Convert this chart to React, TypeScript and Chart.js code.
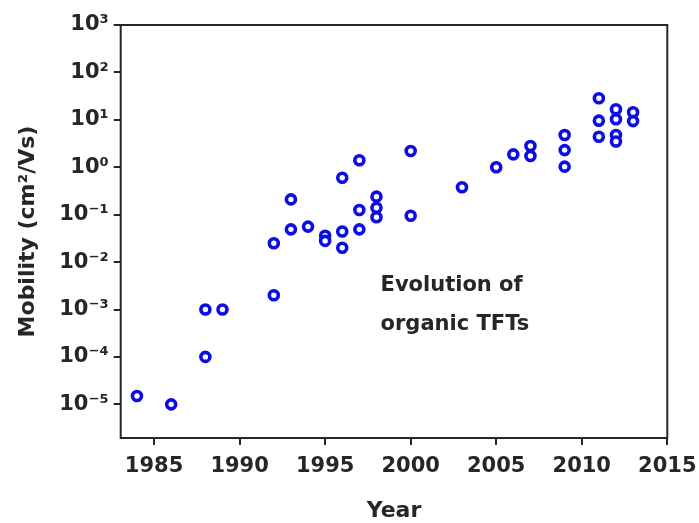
import React, { useEffect, useRef } from 'react';
import { Chart, registerables } from 'chart.js';

Chart.register(...registerables);

// Data
const years = [
  1984, 1986, 1988, 1988, 1989, 1992, 1992, 1993, 1993, 1994, 1995, 1995,
  1996, 1996, 1996, 1997, 1997, 1997, 1998, 1998, 1998, 2000, 2000, 2003,
  2005, 2006, 2007, 2007, 2009, 2009, 2009, 2011, 2011, 2011, 2012, 2012,
  2012, 2012, 2013, 2013,
];
const mobility = [
  1.5e-5, 1e-5, 1e-3, 1e-4, 1e-3, 2e-3, 0.025, 0.21, 0.049, 0.056, 0.036, 0.028,
  0.6, 0.044, 0.02, 1.4, 0.125, 0.049, 0.24, 0.14, 0.088, 2.2, 0.095, 0.38,
  1.0, 1.87, 2.8, 1.73, 4.8, 2.3, 1.03, 28.5, 9.6, 4.4, 16.7, 10.3,
  4.8, 3.5, 14.4, 9.4,
];
const xTickYears = [1985, 1990, 1995, 2000, 2005, 2010, 2015];
const yTickExponents = [-5, -4, -3, -2, -1, 0, 1, 2, 3];
const annotationLines = ['Evolution of', 'organic TFTs'];

const SUP: Record<string, string> = {
  '-': '⁻', '0': '⁰', '1': '¹', '2': '²', '3': '³', '4': '⁴',
  '5': '⁵', '6': '⁶', '7': '⁷', '8': '⁸', '9': '⁹',
};
const sup = (n: number) => String(n).split('').map((c) => SUP[c] ?? c).join('');

const FONT = '"DejaVu Sans", sans-serif';
const INK = '#262626';
const BLUE = 'rgb(12,12,228)';

const framePlugin = {
  id: 'frame',
  afterDraw(chart: any) {
    const { ctx, chartArea } = chart;
    ctx.save();
    ctx.strokeStyle = INK;
    ctx.lineWidth = 2;
    ctx.strokeRect(chartArea.left, chartArea.top, chartArea.right - chartArea.left, chartArea.bottom - chartArea.top);
    ctx.restore();
  },
};

const annotationPlugin = {
  id: 'annotation',
  afterDraw(chart: any) {
    const { ctx, scales } = chart;
    const x = scales.x.getPixelForValue(1998.24);
    const anchors = [Math.pow(10, -2.6), Math.pow(10, -3.44)];
    ctx.save();
    ctx.fillStyle = INK;
    ctx.font = `bold 21px ${FONT}`;
    ctx.textAlign = 'left';
    ctx.textBaseline = 'alphabetic';
    annotationLines.forEach((line, i) => {
      ctx.fillText(line, x, scales.y.getPixelForValue(anchors[i]));
    });
    ctx.restore();
  },
};

const zeroPad = (s: any) => {
  s.paddingLeft = 0;
  s.paddingRight = 0;
  s.paddingTop = 0;
  s.paddingBottom = 0;
};

export default function App() {
  const ref = useRef<HTMLCanvasElement | null>(null);

  useEffect(() => {
    if (!ref.current) return;
    const chart = new Chart(ref.current, {
      type: 'scatter',
      data: {
        datasets: [
          {
            data: years.map((y, i) => ({ x: y, y: mobility[i] })),
            pointStyle: 'circle',
            pointRadius: 4.5,
            pointBorderWidth: 3.6,
            borderColor: BLUE,
            backgroundColor: '#ffffff',
            pointBackgroundColor: '#ffffff',
            pointBorderColor: BLUE,
          },
        ],
      },
      options: {
        responsive: false,
        animation: false,
        layout: { padding: { top: 25, right: 31.7, bottom: 0, left: 0 } },
        plugins: { legend: { display: false }, tooltip: { enabled: false } },
        scales: {
          x: {
            type: 'linear',
            min: 1983.05,
            max: 2015,
            border: { display: false },
            grid: { drawOnChartArea: false, drawTicks: true, tickLength: 7, color: INK, lineWidth: 2 },
            afterBuildTicks: (s: any) => {
              s.ticks = xTickYears.map((v) => ({ value: v }));
            },
            afterFit: (s: any) => {
              s.height = 85;
              zeroPad(s);
            },
            ticks: {
              color: INK,
              font: { family: FONT, size: 21, weight: 'bold' },
              padding: 9,
              maxRotation: 0,
              autoSkip: false,
              callback: (v: any) => String(v),
            },
            title: {
              display: true,
              text: 'Year',
              color: INK,
              font: { family: FONT, size: 22, weight: 'bold' },
              padding: { top: 0, bottom: -1 },
            },
          },
          y: {
            type: 'logarithmic',
            min: Math.pow(10, -5.71),
            max: 1000,
            border: { display: false },
            grid: { drawOnChartArea: false, drawTicks: true, tickLength: 7, color: INK, lineWidth: 2 },
            afterBuildTicks: (s: any) => {
              s.ticks = yTickExponents.map((e) => ({ value: Math.pow(10, e), major: false }));
            },
            afterFit: (s: any) => {
              s.width = 120.7;
              zeroPad(s);
            },
            ticks: {
              color: INK,
              font: { family: FONT, size: 21, weight: 'bold' },
              padding: 5,
              autoSkip: false,
              callback: (v: any) => '10' + sup(Math.round(Math.log10(Number(v)))),
            },
            title: {
              display: true,
              text: 'Mobility (cm²/Vs)',
              color: INK,
              font: { family: FONT, size: 22, weight: 'bold' },
              padding: { top: 15, bottom: 0 },
            },
          },
        },
      },
      plugins: [framePlugin, annotationPlugin],
    });
    return () => chart.destroy();
  }, []);

  return (
    <div style={{ position: 'absolute', left: 0, top: 0, width: 699, height: 523, background: '#fff' }}>
      <canvas ref={ref} width={699} height={523} style={{ display: 'block' }} />
    </div>
  );
}
